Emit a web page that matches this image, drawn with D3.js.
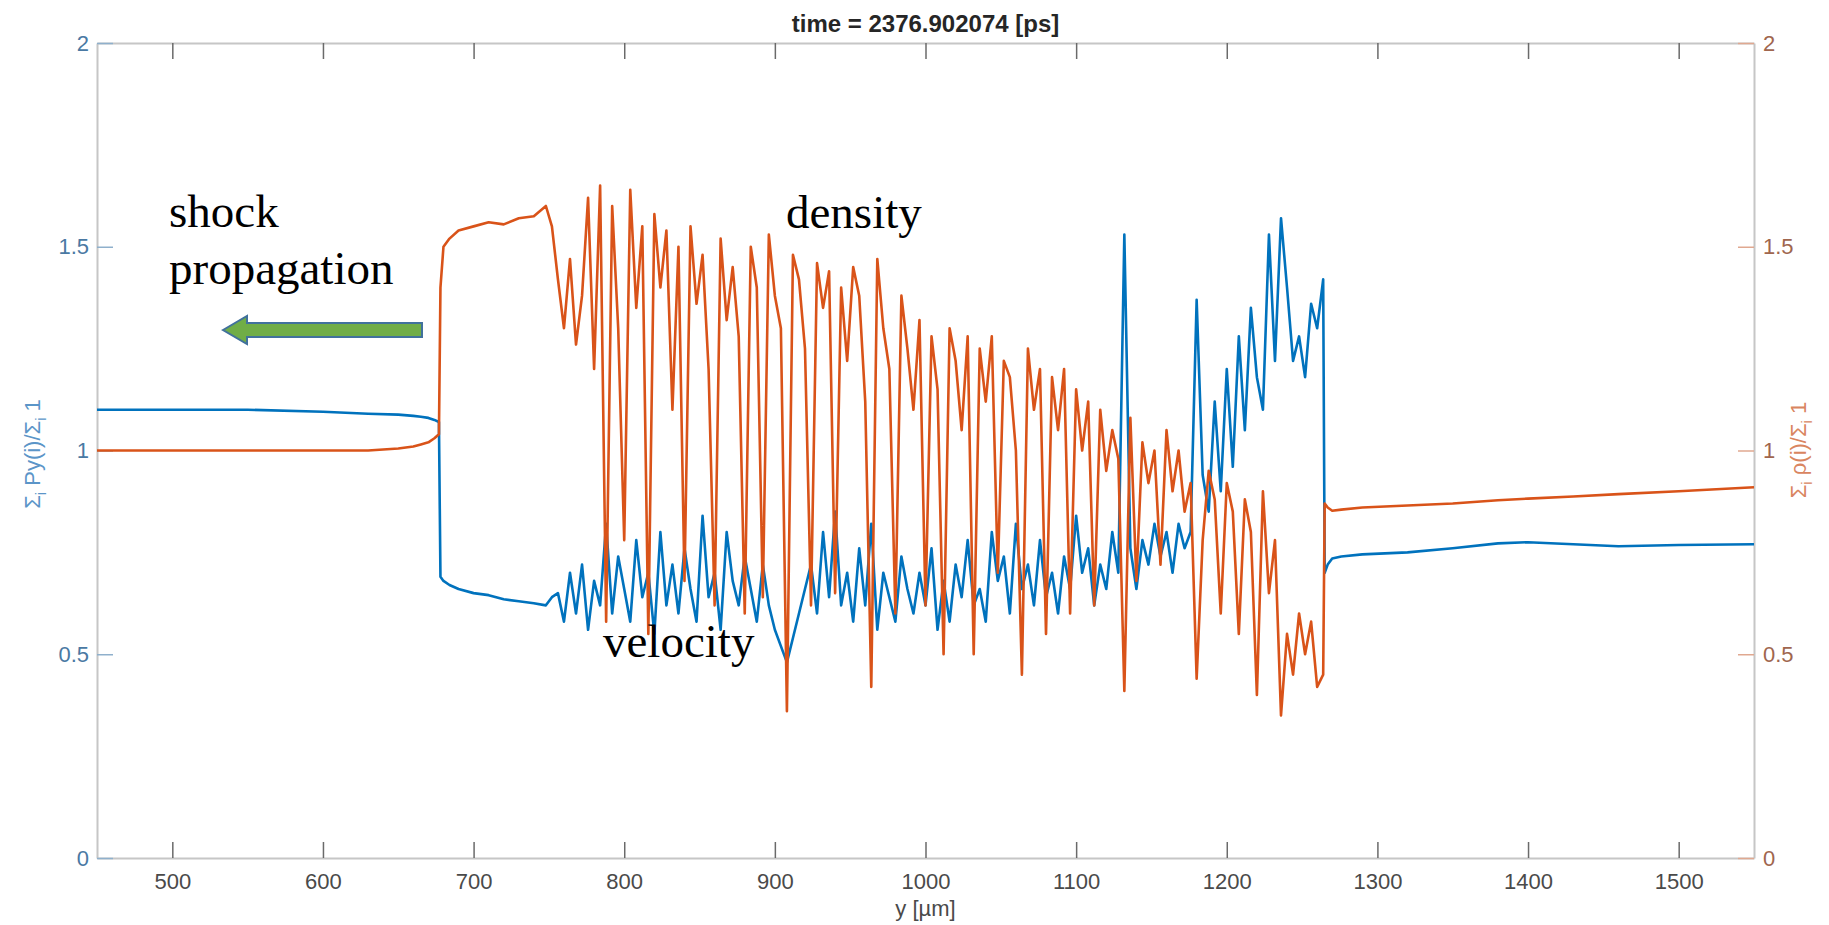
<!DOCTYPE html>
<html>
<head>
<meta charset="utf-8">
<script src="https://cdn.jsdelivr.net/npm/d3@7/dist/d3.min.js"></script>
<style>
  body { margin: 0; background: #fff; }
  svg { display: block; }
</style>
</head>
<body>
<svg id="chart" width="1829" height="925"></svg>
<script>
// sample positions along y [um]
const positionUm = [
  450, 500, 550, 600, 630, 650, 660, 665, 670, 674, 677, 678, 680, 684, 690, 700, 710, 720, 730, 740, 748, 752,
  756, 760, 764, 768, 772, 776, 780, 784, 788, 792,
  796, 800, 804, 808, 812, 816, 820, 824, 828, 832,
  836, 840, 844, 848, 852, 856, 860, 864, 868, 872,
  876, 880, 884, 888, 892, 896, 900, 904, 908, 912,
  916, 920, 924, 928, 932, 936, 940, 944, 948, 952,
  956, 960, 964, 968, 972, 976, 980, 984, 988, 992,
  996, 1000, 1004, 1008, 1012, 1016, 1020, 1024, 1028, 1032,
  1036, 1040, 1044, 1048, 1052, 1056, 1060, 1064, 1068, 1072,
  1076, 1080, 1084, 1088, 1092, 1096, 1100, 1104, 1108, 1112,
  1116, 1120, 1124, 1128, 1132, 1136, 1140, 1144, 1148, 1152,
  1156, 1160, 1164, 1168, 1172, 1176, 1180, 1184, 1188, 1192,
  1196, 1200, 1204, 1208, 1212, 1216, 1220, 1224, 1228, 1232,
  1236, 1240, 1244, 1248, 1252, 1256, 1260, 1264,
  1265, 1267, 1270, 1276, 1290, 1320, 1350, 1380, 1400, 1430, 1460, 1500, 1550
];

// left axis series (blue)
const velocity = [
  1.10, 1.10, 1.10, 1.095, 1.09, 1.088, 1.085, 1.083, 1.08, 1.075, 1.07, 0.69, 0.68, 0.67, 0.66, 0.65, 0.645, 0.635, 0.63, 0.625, 0.62, 0.64,
  0.65, 0.58, 0.70, 0.60, 0.72, 0.56, 0.68, 0.62, 0.82, 0.60,
  0.74, 0.66, 0.58, 0.78, 0.64, 0.70, 0.55, 0.80, 0.62, 0.72,
  0.60, 0.76, 0.66, 0.58, 0.84, 0.64, 0.70, 0.56, 0.80, 0.68,
  0.62, 0.74, 0.66, 0.58, 0.72, 0.62, 0.56, 0.52, 0.48, 0.54,
  0.60, 0.66, 0.72, 0.60, 0.80, 0.64, 0.85, 0.62, 0.70, 0.58,
  0.76, 0.62, 0.82, 0.56, 0.70, 0.64, 0.58, 0.74, 0.66, 0.60,
  0.70, 0.62, 0.76, 0.56, 0.68, 0.58, 0.72, 0.64, 0.78, 0.62,
  0.66, 0.58, 0.80, 0.68, 0.74, 0.60, 0.82, 0.66, 0.72, 0.62,
  0.78, 0.64, 0.70, 0.60, 0.74, 0.66, 0.84, 0.70, 0.76, 0.62,
  0.72, 0.66, 0.80, 0.70, 1.53, 0.76, 0.66, 0.78, 0.72, 0.82,
  0.74, 0.80, 0.70, 0.82, 0.76, 0.80, 1.37, 0.94, 0.85, 1.12,
  0.90, 1.20, 0.96, 1.28, 1.05, 1.35, 1.18, 1.10, 1.53, 1.22,
  1.57, 1.40, 1.22, 1.28, 1.18, 1.36, 1.30, 1.42,
  0.70, 0.72, 0.735, 0.74, 0.745, 0.75, 0.76, 0.772, 0.775, 0.77, 0.765, 0.768, 0.77
];

// right axis series (orange)
const density = [
  1.00, 1.00, 1.00, 1.00, 1.00, 1.005, 1.01, 1.015, 1.02, 1.03, 1.04, 1.40, 1.50, 1.52, 1.54, 1.55, 1.56, 1.555, 1.57, 1.575, 1.60, 1.55,
  1.42, 1.30, 1.47, 1.26, 1.38, 1.62, 1.20, 1.65, 0.58, 1.60,
  1.30, 0.78, 1.64, 1.35, 1.55, 0.55, 1.58, 1.40, 1.54, 1.10,
  1.50, 0.68, 1.55, 1.36, 1.48, 1.20, 0.62, 1.52, 1.32, 1.45,
  1.28, 0.60, 1.50, 1.40, 0.64, 1.53, 1.38, 1.30, 0.36, 1.48,
  1.42, 1.25, 0.62, 1.46, 1.35, 1.44, 0.65, 1.40, 1.22, 1.45,
  1.38, 1.12, 0.42, 1.47, 1.30, 1.20, 0.60, 1.38, 1.25, 1.10,
  1.32, 0.62, 1.28, 1.15, 0.50, 1.30, 1.22, 1.05, 1.28, 0.50,
  1.25, 1.12, 1.28, 0.70, 1.22, 1.18, 1.00, 0.45, 1.25, 1.10,
  1.20, 0.55, 1.18, 1.05, 1.20, 0.60, 1.15, 1.00, 1.12, 0.62,
  1.10, 0.95, 1.05, 0.98, 0.41, 1.08, 0.68, 1.02, 0.92, 1.00,
  0.72, 1.05, 0.90, 1.00, 0.85, 0.92, 0.44, 0.78, 0.95, 0.88,
  0.60, 0.92, 0.85, 0.55, 0.88, 0.80, 0.40, 0.90, 0.65, 0.78,
  0.35, 0.55, 0.45, 0.60, 0.50, 0.58, 0.42, 0.45,
  0.87, 0.86, 0.852, 0.855, 0.86, 0.865, 0.87, 0.878, 0.882, 0.887, 0.893, 0.90, 0.91
];

const xTicks = [500, 600, 700, 800, 900, 1000, 1100, 1200, 1300, 1400, 1500];
const yTicks = [0, 0.5, 1, 1.5, 2];
const titleText = 'time = 2376.902074 [ps]';

function renderChart() {
  // 1- select the svg and set the plot box
  const chart = d3.select('#chart');
  const left = 97;
  const right = 1754;
  const top = 43;
  const bottom = 858;
  const tickLen = 16;
  const font = 'Liberation Sans, Arial, Helvetica, sans-serif';
  const blue = '#0072bd';
  const orange = '#d95319';

  // 2- scales
  const x = d3.scaleLinear().domain([450, 1550]).range([left, right]);
  const yLeft = d3.scaleLinear().domain([0, 2]).range([bottom, top]);
  const yRight = d3.scaleLinear().domain([0, 2]).range([bottom, top]);

  // 3- axes
  const styleAxis = (g, tickColor, textColor) => {
    g.select('.domain').attr('stroke', '#c6c6c6').attr('stroke-width', 2);
    g.selectAll('.tick line').attr('stroke', tickColor).attr('stroke-width', 1.5);
    g.selectAll('.tick text')
      .attr('fill', textColor)
      .attr('font-family', font)
      .attr('font-size', 22);
  };

  chart.append('g')
    .attr('transform', `translate(0,${bottom})`)
    .call(d3.axisBottom(x).tickValues(xTicks).tickFormat(d3.format('d'))
      .tickSizeInner(-tickLen).tickSizeOuter(0).tickPadding(15))
    .call(g => styleAxis(g, '#6a6a6a', '#4a4a4a'));

  chart.append('g')
    .attr('transform', `translate(0,${top})`)
    .call(d3.axisTop(x).tickValues(xTicks).tickFormat('').tickSizeInner(-tickLen).tickSizeOuter(0))
    .call(g => styleAxis(g, '#6a6a6a', '#4a4a4a'));

  chart.append('g')
    .attr('transform', `translate(${left},0)`)
    .call(d3.axisLeft(yLeft).tickValues(yTicks).tickFormat(d3.format('~g'))
      .tickSizeInner(-tickLen).tickSizeOuter(0).tickPadding(8))
    .call(g => styleAxis(g, '#8fb0cc', '#4a79a3'));

  chart.append('g')
    .attr('transform', `translate(${right},0)`)
    .call(d3.axisRight(yRight).tickValues(yTicks).tickFormat(d3.format('~g'))
      .tickSizeInner(-tickLen).tickSizeOuter(0).tickPadding(9))
    .call(g => styleAxis(g, '#e0a890', '#a0664e'));

  // 4- data lines
  const points = positionUm.map((p, i) => ({ p, v: velocity[i], d: density[i] }));

  chart.append('path')
    .datum(points)
    .attr('fill', 'none')
    .attr('stroke', blue)
    .attr('stroke-width', 2.6)
    .attr('stroke-linejoin', 'round')
    .attr('d', d3.line().x(d => x(d.p)).y(d => yLeft(d.v)));

  chart.append('path')
    .datum(points)
    .attr('fill', 'none')
    .attr('stroke', orange)
    .attr('stroke-width', 2.6)
    .attr('stroke-linejoin', 'round')
    .attr('d', d3.line().x(d => x(d.p)).y(d => yRight(d.d)));

  // 5- title and axis labels
  chart.append('text')
    .attr('x', (left + right) / 2)
    .attr('y', 32)
    .attr('text-anchor', 'middle')
    .attr('font-family', font)
    .attr('font-weight', 'bold')
    .attr('font-size', 24)
    .attr('fill', '#262626')
    .text(titleText);

  chart.append('text')
    .attr('x', (left + right) / 2)
    .attr('y', 916)
    .attr('text-anchor', 'middle')
    .attr('font-family', font)
    .attr('font-size', 22)
    .attr('fill', '#4a4a4a')
    .text('y [\u00b5m]');

  const sumLabel = (xPos, yPos, color, body) => {
    const t = chart.append('text')
      .attr('transform', `translate(${xPos},${yPos}) rotate(-90)`)
      .attr('text-anchor', 'middle')
      .attr('font-family', font)
      .attr('font-size', 22)
      .attr('fill', color);
    t.append('tspan').text('\u03a3');
    t.append('tspan').attr('dy', 6).attr('font-size', 15).text('i');
    t.append('tspan').attr('dy', -6).text(` ${body}/\u03a3`);
    t.append('tspan').attr('dy', 6).attr('font-size', 15).text('i');
    t.append('tspan').attr('dy', -6).text(' 1');
  };
  sumLabel(40, 454, '#5b95c8', 'Py(i)');
  sumLabel(1806, 450, '#d98560', '\u03c1(i)');

  // 6- annotations
  const serif = 'Liberation Serif, Times New Roman, serif';
  const note = (xPos, yPos, str) => chart.append('text')
    .attr('x', xPos)
    .attr('y', yPos)
    .attr('font-family', serif)
    .attr('font-size', 47)
    .attr('fill', '#000')
    .text(str);
  note(169, 227, 'shock');
  note(169, 284, 'propagation');
  note(786, 228, 'density');
  note(603, 657, 'velocity');

  // shock arrow pointing left
  const ax0 = 223, ax1 = 422, ay = 330, head = 24, hh = 14, sh = 7;
  chart.append('path')
    .attr('d', `M ${ax0} ${ay} L ${ax0 + head} ${ay - hh} L ${ax0 + head} ${ay - sh}
      L ${ax1} ${ay - sh} L ${ax1} ${ay + sh} L ${ax0 + head} ${ay + sh}
      L ${ax0 + head} ${ay + hh} Z`)
    .attr('fill', '#70ad47')
    .attr('stroke', '#41719c')
    .attr('stroke-width', 2);
}

document.addEventListener('DOMContentLoaded', renderChart);
</script>
</body>
</html>
